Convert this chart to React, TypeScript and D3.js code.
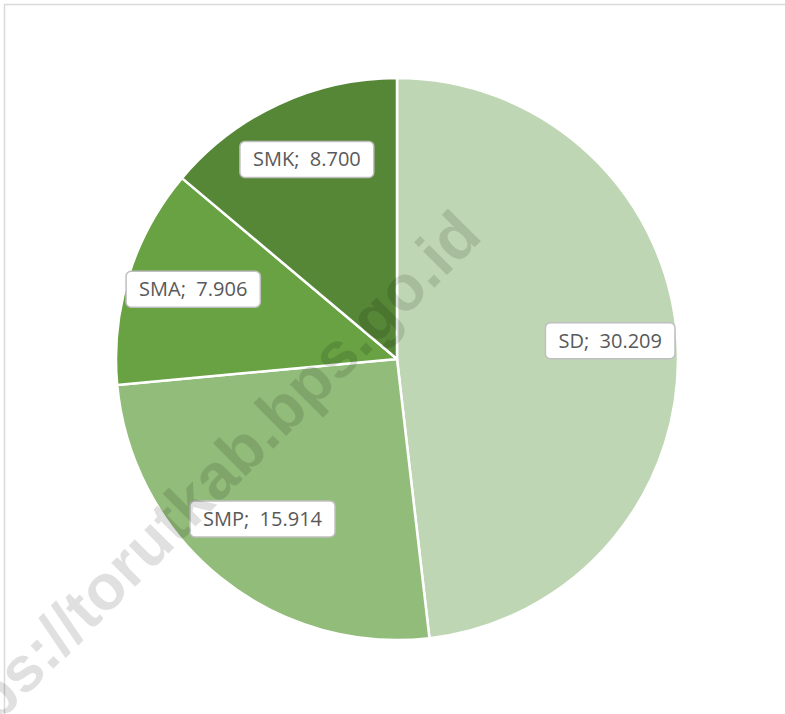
import React, { useEffect, useRef } from 'react'
import * as d3 from 'd3'

const width = 785
const height = 714
const center = { x: 397, y: 359 }
const radius = 281

const categories = ['SD', 'SMP', 'SMA', 'SMK']
const values = [30.209, 15.914, 7.906, 8.7]
const valueLabels = ['30.209', '15.914', '7.906', '8.700']
const colors = ['#bed6b3', '#92bc7a', '#68a243', '#558737']
const watermark = 'https://torutkab.bps.go.id'

const App = () => {
    const ref = useRef<SVGSVGElement>(null)

    useEffect(() => {
        document.body.style.margin = '0'
        const svg = d3.select(ref.current)
        svg.selectAll('*').remove()

        // chart frame
        svg.append('rect')
            .attr('x', 4.5)
            .attr('y', 4.5)
            .attr('width', width + 20)
            .attr('height', height + 20)
            .attr('fill', '#fff')
            .attr('stroke', '#d9d9d9')
            .attr('stroke-width', 1.5)

        const data = categories.map((c, i) => ({ name: c, value: values[i], label: valueLabels[i], color: colors[i] }))
        const pie = d3.pie<any>().sort(null).value((d) => d.value)
        const arcs = pie(data)
        const arc = d3.arc<any>().innerRadius(0).outerRadius(radius)
        const labelArc = d3.arc<any>().innerRadius(radius * 0.76).outerRadius(radius * 0.76)

        const g = svg.append('g').attr('transform', `translate(${center.x},${center.y})`)
        g.selectAll('path.slice')
            .data(arcs)
            .enter()
            .append('path')
            .attr('class', 'slice')
            .attr('d', arc)
            .attr('fill', (d) => d.data.color)
            .attr('stroke', '#fff')
            .attr('stroke-width', 2.5)
            .attr('stroke-linejoin', 'round')

        // watermark
        svg.append('text')
            .attr('transform', 'translate(484,238) rotate(-45)')
            .attr('text-anchor', 'end')
            .attr('font-family', '"Liberation Sans", Arial, sans-serif')
            .attr('font-weight', 'bold')
            .attr('font-size', 64)
            .attr('fill', '#000')
            .attr('fill-opacity', 0.12)
            .text(watermark)

        // data labels
        const labels = g.selectAll('g.label')
            .data(arcs)
            .enter()
            .append('g')
            .attr('class', 'label')
            .attr('transform', (d) => {
                const [x, y] = labelArc.centroid(d)
                return `translate(${x},${y - 6})`
            })

        labels.each(function (d) {
            const lg = d3.select(this)
            const rect = lg.append('rect')
            const txt = lg.append('text')
                .attr('text-anchor', 'middle')
                .attr('dy', '0.35em')
                .attr('font-family', '"Open Sans", sans-serif')
                .attr('font-size', 20)
                .attr('fill', '#595959')
                .style('white-space', 'pre')
                .text(`${d.data.name};  ${d.data.label}`)
            const w = (txt.node() as SVGTextElement).getComputedTextLength() + 26
            const h = 36
            rect.attr('x', -w / 2)
                .attr('y', -h / 2)
                .attr('width', w)
                .attr('height', h)
                .attr('rx', 5)
                .attr('fill', '#fff')
                .attr('stroke', '#bfbfbf')
                .attr('stroke-width', 1.5)
        })
    }, [])

    return <svg ref={ref} width={width} height={height} style={{ display: 'block' }} />
}

export default App
